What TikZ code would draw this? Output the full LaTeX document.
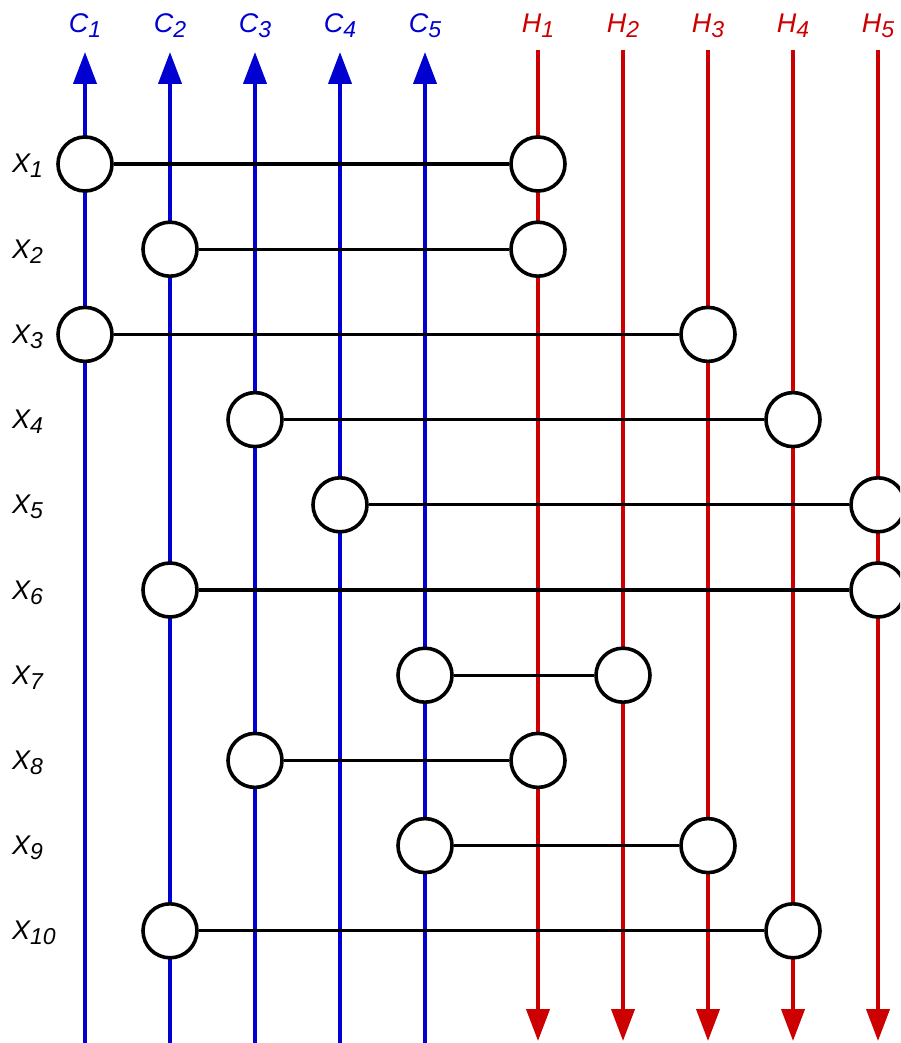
\documentclass[tikz,border=0pt]{standalone}
\usepackage{fontspec}
\setmainfont{Liberation Sans}
\usepackage{xcolor}
\usepackage{tikz}
\usetikzlibrary{arrows.meta}
\definecolor{cold}{HTML}{0000D0}
\definecolor{hot} {HTML}{CC0000}
\newcommand{\streamlab}[2]{#1\raisebox{-5pt}{\fontsize{23}{23}\selectfont #2}}

\begin{document}
\begin{tikzpicture}[x=1pt,y=-1pt,
    stream/.style={line width=4pt},
    unit/.style={circle, draw=black, fill=white, line width=3.6pt,
                 minimum size=54pt, inner sep=0pt},
    link/.style={line width=3.2pt},
    lab/.style={font=\fontsize{27}{27}\selectfont\itshape, inner sep=0pt}]
  \useasboundingbox (0,0) rectangle (900,1043);
  \clip (0,0) rectangle (900,1043);
  % cold streams, upwards
  \foreach \i in {1,...,5}{
    \pgfmathsetmacro{\xc}{85*\i}
    \coordinate (c\i-bot) at (\xc,1045);
    \coordinate (c\i-top) at (\xc,52);
    \draw[stream, cold, -{Triangle[length=32pt,width=23pt]}] (c\i-bot) -- (c\i-top);
    \node[lab, cold, anchor=base] (c\i-lab) at (\xc,33) {\streamlab{C}{\i}};
  }
  % hot streams, downwards
  \foreach \i in {1,...,5}{
    \pgfmathsetmacro{\xh}{453+85*\i}
    \coordinate (h\i-top) at (\xh,50);
    \coordinate (h\i-bot) at (\xh,1041);
    \draw[stream, hot, -{Triangle[length=32pt,width=23pt]}] (h\i-top) -- (h\i-bot);
    \node[lab, hot, anchor=base] (h\i-lab) at (\xh,33) {\streamlab{H}{\i}};
  }
  % exchangers: row/cold/hot
  \foreach \r/\c/\h in {1/1/1,2/2/1,3/1/3,4/3/4,5/4/5,6/2/5,7/5/2,8/3/1,9/5/3,10/2/4}{
    \pgfmathsetmacro{\yr}{164+85.2*(\r-1)}
    \node[lab, anchor=base west] (x\r-lab) at (12,\yr+9) {\streamlab{X}{\r}};
    \node[unit] (x\r-c) at (85*\c,\yr) {};
    \node[unit] (x\r-h) at (453+85*\h,\yr) {};
    \draw[link] (x\r-c) -- (x\r-h);
  }
\end{tikzpicture}
\end{document}
